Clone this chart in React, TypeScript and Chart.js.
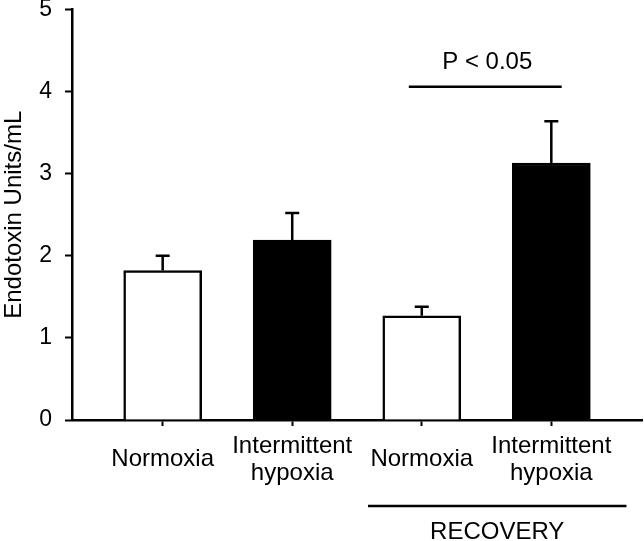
import React, { useEffect, useRef } from 'react';
import { Chart, registerables } from 'chart.js';

Chart.register(...registerables);

const categories: string[][] = [['Normoxia'], ['Intermittent', 'hypoxia'], ['Normoxia'], ['Intermittent', 'hypoxia']];
const positions = [1, 2, 3, 4];
const means = [1.82, 2.19, 1.27, 3.13];
const sems = [0.18, 0.33, 0.11, 0.51];
const fillColors = ['#ffffff', '#000000', '#ffffff', '#000000'];
const yMin = 0;
const yMax = 5;
const yStep = 1;
const yTitle = 'Endotoxin Units/mL';
const sigLabel = 'P < 0.05';
const sigSpan = [2.9, 4.08];
const sigLevel = 4.06;
const sigTextLevel = 4.35;
const groupLabel = 'RECOVERY';
const groupSpan = [2.585, 4.58];

const FONT = "'Liberation Sans', Arial, sans-serif";
const FS = 24;

export default function App() {
  const ref = useRef<HTMLCanvasElement | null>(null);

  useEffect(() => {
    document.body.style.margin = '0';
    const canvas = ref.current;
    if (!canvas) return;

    const annotations = {
      id: 'annotations',
      afterDatasetsDraw(chart: any) {
        const { ctx, scales, chartArea } = chart;
        const xs = scales.x;
        const ys = scales.y;
        ctx.save();
        ctx.strokeStyle = '#000';
        ctx.fillStyle = '#000';
        ctx.lineWidth = 2.5;
        // error bars
        positions.forEach((p, i) => {
          const x = xs.getPixelForValue(p);
          const y0 = ys.getPixelForValue(means[i]);
          const y1 = ys.getPixelForValue(means[i] + sems[i]);
          ctx.beginPath();
          ctx.moveTo(x, y0);
          ctx.lineTo(x, y1);
          ctx.moveTo(x - 7, y1);
          ctx.lineTo(x + 7, y1);
          ctx.stroke();
        });
        // significance
        const sx0 = xs.getPixelForValue(sigSpan[0]);
        const sx1 = xs.getPixelForValue(sigSpan[1]);
        const sy = ys.getPixelForValue(sigLevel);
        ctx.beginPath();
        ctx.moveTo(sx0, sy);
        ctx.lineTo(sx1, sy);
        ctx.stroke();
        ctx.font = `${FS}px ${FONT}`;
        ctx.textAlign = 'center';
        ctx.textBaseline = 'middle';
        ctx.fillText(sigLabel, xs.getPixelForValue((sigSpan[0] + sigSpan[1]) / 2) + 2, ys.getPixelForValue(sigTextLevel));
        // group bracket
        const gx0 = xs.getPixelForValue(groupSpan[0]);
        const gx1 = xs.getPixelForValue(groupSpan[1]);
        const gy = chartArea.bottom + 86;
        ctx.beginPath();
        ctx.moveTo(gx0, gy);
        ctx.lineTo(gx1, gy);
        ctx.stroke();
        ctx.fillText(groupLabel, (gx0 + gx1) / 2, chartArea.bottom + 112);
        ctx.restore();
      },
    };

    const chart = new Chart(canvas, {
      type: 'bar',
      data: {
        datasets: [
          {
            data: positions.map((p, i) => ({ x: p, y: means[i] })),
            backgroundColor: fillColors,
            borderColor: '#000',
            borderWidth: 2.5,
            borderSkipped: 'start',
            barThickness: 78,
          },
        ],
      },
      options: {
        animation: false,
        responsive: true,
        maintainAspectRatio: false,
        layout: { padding: { top: 9.5, right: 2, left: 0, bottom: 0 } },
        plugins: { legend: { display: false }, tooltip: { enabled: false } },
        scales: {
          x: {
            type: 'linear',
            min: 0.3,
            max: 4.7,
            offset: false,
            afterBuildTicks: (scale: any) => {
              scale.ticks = positions.map((v) => ({ value: v }));
            },
            afterFit: (scale: any) => {
              scale.height = 121;
              scale.paddingLeft = 0;
              scale.paddingRight = 0;
            },
            grid: {
              display: true,
              offset: false,
              drawOnChartArea: false,
              drawTicks: true,
              tickLength: 6,
              tickColor: '#000',
              tickWidth: 2,
            },
            border: { display: true, color: '#000', width: 2.5 },
            ticks: {
              color: '#000',
              font: { family: FONT, size: FS, lineHeight: 1.12 },
              padding: 20,
              maxRotation: 0,
              autoSkip: false,
              crossAlign: 'center',
              callback: (v: any) => {
                const i = positions.indexOf(Number(v));
                return i >= 0 ? categories[i] : '';
              },
            },
          },
          y: {
            min: yMin,
            max: yMax,
            afterFit: (scale: any) => {
              scale.width = 72;
              scale.paddingTop = 0;
              scale.paddingBottom = 0;
            },
            grid: {
              display: true,
              drawOnChartArea: false,
              drawTicks: true,
              tickLength: 7,
              tickColor: '#000',
              tickWidth: 2,
            },
            border: { display: true, color: '#000', width: 2.5 },
            ticks: {
              stepSize: yStep,
              color: '#000',
              font: { family: FONT, size: 23 },
              padding: 13,
            },
            title: {
              display: true,
              text: yTitle,
              color: '#000',
              font: { family: FONT, size: FS },
              padding: { top: 0, bottom: 0 },
            },
          },
        },
      },
      plugins: [annotations],
    });

    return () => chart.destroy();
  }, []);

  return (
    <div style={{ position: 'relative', width: 644, height: 541 }}>
      <canvas ref={ref} />
    </div>
  );
}
